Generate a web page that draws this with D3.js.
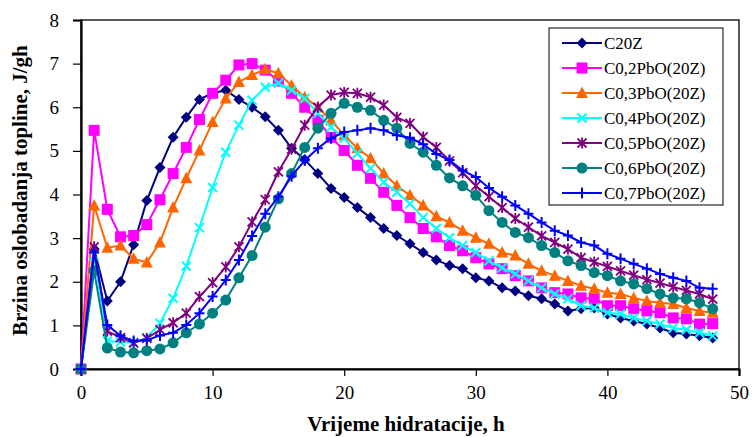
<!DOCTYPE html>
<html>
<head>
<meta charset="utf-8">
<script src="https://cdn.jsdelivr.net/npm/d3@7"></script>
<style>
  html, body { margin: 0; padding: 0; background: #fff; }
  svg { display: block; }
  text { font-family: "Liberation Serif", "Times New Roman", serif; fill: #000; }
</style>
</head>
<body>
<svg id="chart" width="752" height="437"></svg>
<script>
// ---- Data ----
const hours = [0,1,2,3,4,5,6,7,8,9,10,11,12,13,14,15,16,17,18,19,20,21,22,23,24,25,26,27,28,29,30,31,32,33,34,35,36,37,38,39,40,41,42,43,44,45,46,47,48];

const seriesNames = ["C20Z", "C0,2PbO(20Z)", "C0,3PbO(20Z)", "C0,4PbO(20Z)", "C0,5PbO(20Z)", "C0,6PbO(20Z)", "C0,7PbO(20Z)"];

const c20z = [0,2.75,1.56,2.0,2.85,3.86,4.62,5.31,5.77,6.18,6.32,6.39,6.18,6.0,5.78,5.47,5.06,4.8,4.48,4.14,3.93,3.70,3.47,3.22,3.06,2.87,2.67,2.5,2.37,2.3,2.09,2.02,1.86,1.79,1.68,1.61,1.49,1.33,1.38,1.40,1.26,1.17,1.10,1.03,0.94,0.83,0.80,0.76,0.71];
const c02 = [0,5.47,3.66,3.03,3.06,3.31,3.88,4.48,5.08,5.72,6.32,6.62,6.97,7.0,6.85,6.6,6.32,6.0,5.7,5.31,5.01,4.67,4.37,4.05,3.75,3.47,3.22,3.03,2.83,2.71,2.55,2.41,2.3,2.14,2.02,1.86,1.75,1.72,1.63,1.61,1.45,1.45,1.38,1.33,1.29,1.17,1.15,1.03,1.04];
const c03 = [0,3.75,2.78,2.83,2.53,2.44,2.9,3.7,4.37,5.01,5.66,6.2,6.58,6.74,6.87,6.78,6.5,6.23,6.0,5.7,5.36,5.06,4.83,4.48,4.2,3.98,3.75,3.5,3.36,3.17,3.01,2.87,2.67,2.6,2.41,2.25,2.14,2.02,1.91,1.84,1.75,1.72,1.63,1.56,1.52,1.49,1.40,1.33,1.29];
const c04 = [0,2.6,0.64,0.62,0.6,0.72,1.05,1.62,2.36,3.24,4.16,4.97,5.59,6.16,6.46,6.55,6.39,6.2,5.86,5.54,5.29,4.94,4.6,4.28,4.05,3.79,3.47,3.22,3.01,2.83,2.67,2.48,2.32,2.18,2.02,1.86,1.72,1.61,1.45,1.40,1.29,1.26,1.17,1.10,1.03,0.94,0.9,0.83,0.76];
const c05 = [0,2.8,0.87,0.72,0.6,0.7,0.9,1.06,1.28,1.66,1.98,2.34,2.8,3.37,3.88,4.52,5.04,5.59,6.0,6.28,6.34,6.32,6.23,6.05,5.77,5.63,5.32,5.08,4.77,4.5,4.2,3.95,3.7,3.45,3.25,3.05,2.9,2.75,2.55,2.45,2.35,2.25,2.15,2.05,1.97,1.88,1.8,1.72,1.6];
const c06 = [0,2.25,0.48,0.39,0.37,0.42,0.46,0.6,0.83,1.03,1.28,1.58,2.09,2.6,3.25,3.9,4.48,5.08,5.52,5.86,6.09,6.0,5.93,5.7,5.52,5.17,4.97,4.67,4.38,4.2,3.98,3.63,3.36,3.13,3.01,2.83,2.67,2.48,2.37,2.21,2.14,2.02,1.95,1.84,1.72,1.63,1.61,1.52,1.38];
const c07 = [0,2.67,1.01,0.76,0.64,0.66,0.77,0.83,1.01,1.28,1.66,2.04,2.5,3.05,3.56,3.95,4.42,4.78,5.06,5.29,5.43,5.47,5.52,5.47,5.36,5.3,5.15,4.93,4.79,4.55,4.4,4.15,3.95,3.75,3.56,3.36,3.17,3.06,2.9,2.83,2.64,2.53,2.41,2.3,2.18,2.09,2.02,1.86,1.84];

const xTicks = [0, 10, 20, 30, 40, 50];
const yTicks = [0, 1, 2, 3, 4, 5, 6, 7, 8];
const xTitle = "Vrijeme hidratacije, h";
const yTitle = "Brzina oslobadanja topline, J/gh";

// ---- Styles ----
const colors = ["#000080", "#FF00FF", "#FF6600", "#00FFFF", "#800080", "#008080", "#0000FF"];
const markers = ["diamond", "square", "triangle", "x", "star", "circle", "plus"];
const allValues = [c20z, c02, c03, c04, c05, c06, c07];

// ---- Layout ----
const svg = d3.select("#chart");
const plot = { left: 81, right: 739, top: 20, bottom: 369 };

const x = d3.scaleLinear().domain([0, 50]).range([plot.left, plot.right]);
const y = d3.scaleLinear().domain([0, 8]).range([plot.bottom, plot.top]);

// frame
svg.append("rect")
  .attr("x", plot.left).attr("y", plot.top)
  .attr("width", plot.right - plot.left).attr("height", plot.bottom - plot.top)
  .attr("fill", "none").attr("stroke", "#000").attr("stroke-width", 1.3);

// axes
const xAxis = svg.append("g")
  .attr("transform", `translate(0,${plot.bottom})`)
  .call(d3.axisBottom(x).tickValues(xTicks).tickSize(7).tickPadding(10).tickFormat(d3.format("d")));
const yAxis = svg.append("g")
  .attr("transform", `translate(${plot.left},0)`)
  .call(d3.axisLeft(y).tickValues(yTicks).tickSize(8).tickPadding(14).tickFormat(d3.format("d")));
[xAxis, yAxis].forEach(g => {
  g.select(".domain").attr("stroke", "#000").attr("stroke-width", 2.2);
  g.selectAll(".tick line").attr("stroke", "#000").attr("stroke-width", 1.2);
  g.selectAll(".tick text")
    .style("font-family", '"Liberation Serif", "Times New Roman", serif')
    .style("font-size", "19px").attr("fill", "#000");
});

// axis titles
svg.append("text")
  .attr("x", (plot.left + plot.right) / 2 - 4).attr("y", 431)
  .attr("text-anchor", "middle")
  .style("font-size", "21px").style("font-weight", "bold")
  .text(xTitle);
svg.append("text")
  .attr("transform", `translate(27,${(plot.top + plot.bottom) / 2 - 4}) rotate(-90)`)
  .attr("text-anchor", "middle")
  .style("font-size", "21px").style("font-weight", "bold")
  .text(yTitle);

// marker drawing
function drawMarker(g, type, color, cx, cy) {
  switch (type) {
    case "diamond":
      g.append("path").attr("d", `M${cx},${cy-5.5}L${cx+5.5},${cy}L${cx},${cy+5.5}L${cx-5.5},${cy}Z`).attr("fill", color);
      break;
    case "square":
      g.append("rect").attr("x", cx-5.5).attr("y", cy-5.5).attr("width", 11).attr("height", 11).attr("fill", color);
      break;
    case "triangle":
      g.append("path").attr("d", `M${cx},${cy-6.5}L${cx+6},${cy+5}L${cx-6},${cy+5}Z`).attr("fill", color);
      break;
    case "circle":
      g.append("circle").attr("cx", cx).attr("cy", cy).attr("r", 5.5).attr("fill", color);
      break;
    case "x":
      g.append("path").attr("d", `M${cx-4.5},${cy-4.5}L${cx+4.5},${cy+4.5}M${cx-4.5},${cy+4.5}L${cx+4.5},${cy-4.5}`)
        .attr("stroke", color).attr("stroke-width", 2).attr("fill", "none");
      break;
    case "star":
      g.append("path").attr("d", `M${cx-4.5},${cy-4.5}L${cx+4.5},${cy+4.5}M${cx-4.5},${cy+4.5}L${cx+4.5},${cy-4.5}M${cx},${cy-5.5}L${cx},${cy+5.5}`)
        .attr("stroke", color).attr("stroke-width", 1.8).attr("fill", "none");
      break;
    case "plus":
      g.append("path").attr("d", `M${cx-5},${cy}L${cx+5},${cy}M${cx},${cy-5.5}L${cx},${cy+5.5}`)
        .attr("stroke", color).attr("stroke-width", 2).attr("fill", "none");
      break;
  }
}

const line = d3.line().x(d => x(d[0])).y(d => y(d[1]));

allValues.forEach((vals, i) => {
  const pts = hours.map((h, k) => [h, vals[k]]);
  const g = svg.append("g").attr("class", "series");
  g.append("path").datum(pts).attr("d", line)
    .attr("fill", "none").attr("stroke", colors[i]).attr("stroke-width", 2);
  pts.forEach(p => drawMarker(g, markers[i], colors[i], x(p[0]), y(p[1])));
});

// legend
const lg = svg.append("g");
lg.append("rect").attr("x", 549).attr("y", 28).attr("width", 174).attr("height", 177)
  .attr("fill", "#fff").attr("stroke", "#000").attr("stroke-width", 1);
seriesNames.forEach((name, i) => {
  const cy = 43 + i * 25;
  lg.append("line").attr("x1", 562).attr("x2", 602).attr("y1", cy).attr("y2", cy)
    .attr("stroke", colors[i]).attr("stroke-width", 2);
  drawMarker(lg, markers[i], colors[i], 582, cy);
  lg.append("text").attr("x", 604).attr("y", cy + 5.5)
    .style("font-size", "17px").text(name);
});
</script>
</body>
</html>
